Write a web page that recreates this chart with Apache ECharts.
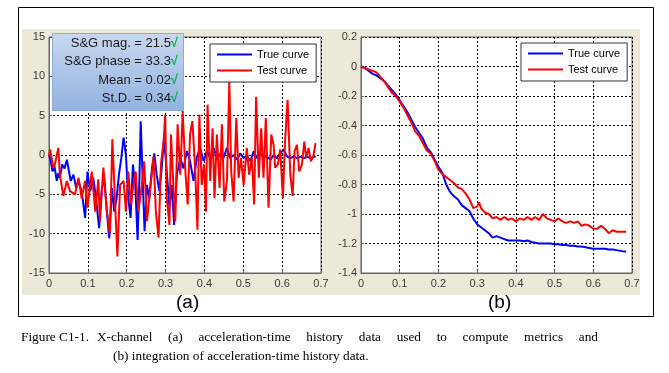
<!DOCTYPE html>
<html><head><meta charset="utf-8">
<script src="https://cdn.jsdelivr.net/npm/echarts@6/dist/echarts.min.js"></script>
<style>html,body{margin:0;padding:0;background:#fff}#c{width:669px;height:373px}</style>
</head><body><div id="c"></div>
<script>
// ---- data ----
var xTicks = [0, 0.1, 0.2, 0.3, 0.4, 0.5, 0.6, 0.7];
var accelYTicks = [-15, -10, -5, 0, 5, 10, 15];
var integYTicks = [-1.4, -1.2, -1, -0.8, -0.6, -0.4, -0.2, 0, 0.2];
var seriesNames = ['True curve', 'Test curve'];
var metricLabels = ['S&G mag. = 21.5', 'S&G phase = 33.3', 'Mean = 0.02', 'St.D. = 0.34'];
var captionLabel = 'Figure C1-1.';
var captionLine1 = 'X-channel (a) acceleration-time history data used to compute metrics and';
var captionLine2 = '(b) integration of acceleration-time history data.';

// (a) acceleration: [time, value]
var trueAccel = [[0,0],[0.004,-0.6],[0.009,-2.1],[0.014,-1.4],[0.020,-3.3],[0.024,-2.3],[0.028,-2.9],[0.034,-1.2],[0.040,-1.7],[0.046,-0.6],[0.050,-0.8],[0.056,-3.3],[0.063,-2.5],[0.070,-4.2],[0.076,-3.3],[0.084,-4.6],[0.093,-8.0],[0.099,-2.1],[0.106,-4.6],[0.114,-2.9],[0.121,-5.5],[0.129,-9.3],[0.136,-4.2],[0.142,-2.9],[0.149,-7.2],[0.155,-10.6],[0.162,-4.2],[0.168,-7.2],[0.174,-5.5],[0.180,-2.5],[0.186,-0.4],[0.192,2.2],[0.198,0],[0.204,-5.5],[0.210,-8.0],[0.216,-1.2],[0.222,-3.8],[0.228,-10.8],[0.233,-2.5],[0.236,4.3],[0.241,-2.9],[0.246,-9.7],[0.252,-3.8],[0.258,-5.5],[0.265,-1.7],[0.271,0.2],[0.277,-2.5],[0.284,-4.6],[0.290,-1.7],[0.296,2.2],[0.303,-2.1],[0.310,-6.7],[0.316,-3.8],[0.322,-8.9],[0.329,-2.5],[0.338,-0.4],[0.346,-1.7],[0.355,0.5],[0.363,-0.8],[0.372,-3.3],[0.381,-0.2],[0.389,0.9],[0.398,-0.8],[0.406,0.5],[0.415,-0.4],[0.424,0.9],[0.432,-0.6],[0.441,0.2],[0.449,-0.4],[0.458,0.9],[0.466,-0.4],[0.475,0],[0.484,-0.6],[0.492,0.2],[0.501,-0.4],[0.509,0],[0.518,-0.8],[0.527,0.5],[0.535,-0.4],[0.544,0.2],[0.552,-0.4],[0.561,-0.2],[0.570,-0.6],[0.578,0],[0.587,-0.4],[0.595,0.2],[0.604,0.7],[0.613,-0.2],[0.621,-0.4],[0.630,-0.2],[0.638,-0.4],[0.647,-0.2],[0.656,-0.4],[0.664,-0.2],[0.673,-0.4],[0.686,-0.2]];
var testAccel = [[0,0],[0.003,0.7],[0.011,-1.6],[0.015,-1.2],[0.024,0.9],[0.028,-2.5],[0.037,-5.2],[0.046,-3.3],[0.054,-4.6],[0.067,-5.0],[0.076,-2.9],[0.084,-5.5],[0.093,-3.3],[0.099,-6.7],[0.110,-2.1],[0.119,-7.2],[0.127,-3.1],[0.131,-8.4],[0.140,-1.6],[0.149,-7.2],[0.157,-10.0],[0.163,2.0],[0.170,-5.9],[0.176,-12.9],[0.183,-3.8],[0.192,-3.3],[0.198,-7.2],[0.204,-2.1],[0.211,-6.3],[0.217,-3.8],[0.223,-2.1],[0.230,-7.2],[0.239,-3.8],[0.245,-0.8],[0.252,-8.4],[0.260,-4.6],[0.269,-0.2],[0.275,-7.2],[0.282,-10.5],[0.288,-1.2],[0.295,1.7],[0.299,5.1],[0.303,-5.5],[0.310,-8.9],[0.314,2.6],[0.320,-3.8],[0.325,-8.4],[0.331,3.9],[0.338,-2.5],[0.344,5.6],[0.351,-2.1],[0.357,-6.3],[0.363,2.6],[0.369,4.3],[0.376,-1.6],[0.382,-9.5],[0.387,5.1],[0.393,-3.8],[0.399,-1.2],[0.404,-7.2],[0.408,6.4],[0.415,-3.3],[0.421,3.4],[0.426,-5.5],[0.432,2.6],[0.439,-4.2],[0.445,3.9],[0.451,-5.9],[0.458,-3.3],[0.464,9.4],[0.469,-2.1],[0.475,-5.9],[0.482,4.7],[0.488,-2.9],[0.494,-0.4],[0.501,-3.8],[0.509,0.9],[0.515,-2.5],[0.522,-0.4],[0.528,-6.3],[0.533,7.4],[0.540,-2.9],[0.546,3.4],[0.552,-2.9],[0.558,4.7],[0.565,-6.7],[0.572,2.6],[0.578,1.3],[0.582,-1.6],[0.589,-1.2],[0.595,0.7],[0.602,-5.5],[0.607,1.3],[0.614,7.0],[0.621,-2.5],[0.627,-5.2],[0.632,0.5],[0.638,1.3],[0.644,-2.1],[0.651,-1.2],[0.657,1.7],[0.662,-0.4],[0.668,0.9],[0.674,-0.8],[0.680,-0.2],[0.686,1.5]];

// (b) integration: [time, value]
var trueInteg = [[0,0],[0.01,-0.01],[0.02,-0.03],[0.03,-0.05],[0.04,-0.06],[0.05,-0.08],[0.06,-0.10],[0.07,-0.13],[0.08,-0.16],[0.09,-0.19],[0.10,-0.23],[0.11,-0.27],[0.12,-0.31],[0.13,-0.36],[0.14,-0.41],[0.15,-0.45],[0.16,-0.49],[0.17,-0.55],[0.18,-0.58],[0.19,-0.63],[0.20,-0.68],[0.21,-0.72],[0.22,-0.80],[0.23,-0.85],[0.24,-0.88],[0.25,-0.90],[0.26,-0.94],[0.27,-0.96],[0.28,-0.98],[0.29,-1.03],[0.30,-1.07],[0.31,-1.09],[0.32,-1.11],[0.33,-1.13],[0.34,-1.16],[0.35,-1.15],[0.36,-1.16],[0.37,-1.17],[0.38,-1.18],[0.39,-1.18],[0.40,-1.18],[0.41,-1.18],[0.42,-1.185],[0.43,-1.18],[0.44,-1.19],[0.45,-1.195],[0.46,-1.2],[0.47,-1.2],[0.48,-1.2],[0.49,-1.2],[0.50,-1.205],[0.51,-1.205],[0.52,-1.21],[0.53,-1.21],[0.54,-1.215],[0.55,-1.215],[0.56,-1.22],[0.57,-1.22],[0.58,-1.225],[0.59,-1.23],[0.60,-1.235],[0.61,-1.235],[0.62,-1.235],[0.63,-1.235],[0.64,-1.24],[0.65,-1.24],[0.66,-1.245],[0.67,-1.25],[0.68,-1.255],[0.685,-1.255]];
var testInteg = [[0,0],[0.01,-0.01],[0.02,-0.02],[0.03,-0.03],[0.04,-0.04],[0.05,-0.07],[0.06,-0.10],[0.07,-0.14],[0.08,-0.18],[0.09,-0.20],[0.10,-0.24],[0.11,-0.28],[0.12,-0.33],[0.13,-0.38],[0.14,-0.44],[0.15,-0.47],[0.16,-0.52],[0.17,-0.57],[0.18,-0.59],[0.19,-0.64],[0.20,-0.70],[0.21,-0.73],[0.22,-0.75],[0.23,-0.77],[0.24,-0.79],[0.25,-0.82],[0.26,-0.83],[0.27,-0.86],[0.28,-0.90],[0.29,-0.96],[0.30,-0.95],[0.305,-0.92],[0.31,-0.96],[0.32,-0.99],[0.33,-1.00],[0.34,-1.03],[0.35,-1.02],[0.36,-1.04],[0.37,-1.02],[0.38,-1.04],[0.39,-1.03],[0.40,-1.05],[0.41,-1.03],[0.42,-1.04],[0.43,-1.02],[0.44,-1.04],[0.45,-1.02],[0.46,-1.04],[0.47,-1.00],[0.48,-1.03],[0.49,-1.04],[0.50,-1.05],[0.51,-1.03],[0.52,-1.05],[0.53,-1.06],[0.54,-1.05],[0.55,-1.06],[0.56,-1.05],[0.57,-1.08],[0.58,-1.07],[0.59,-1.08],[0.60,-1.10],[0.61,-1.10],[0.62,-1.08],[0.63,-1.10],[0.64,-1.13],[0.65,-1.11],[0.66,-1.12],[0.67,-1.12],[0.68,-1.12],[0.685,-1.12]];

// ---- chart ----
var chart = echarts.init(document.getElementById('c'), null, {renderer: 'canvas'});
var tickFont = {fontFamily: 'Liberation Sans', fontSize: 11, color: '#3a3a3a'};
var gridLine = {show: true, lineStyle: {color: '#000', type: [2, 2], width: 1}};
function xAx(i) {
  return {type: 'value', gridIndex: i, min: xTicks[0], max: xTicks[xTicks.length - 1], interval: 0.1,
    axisLine: {show: true, onZero: false, lineStyle: {color: '#666'}},
    axisTick: {show: true, inside: true, length: 3, lineStyle: {color: '#666'}},
    axisLabel: Object.assign({margin: 5, formatter: function (v) { return String(+v.toFixed(1)); }}, tickFont),
    splitLine: gridLine};
}
function yAx(i, ticks, step) {
  return {type: 'value', gridIndex: i, min: ticks[0], max: ticks[ticks.length - 1], interval: step,
    axisLine: {show: true, onZero: false, lineStyle: {color: '#666'}},
    axisTick: {show: true, inside: true, length: 3, lineStyle: {color: '#666'}},
    axisLabel: Object.assign({margin: 4, formatter: function (v) { return String(+v.toFixed(1)); }}, tickFont),
    splitLine: gridLine};
}
function legendAt(left, top) {
  return {left: left, top: top, orient: 'vertical', data: seriesNames, icon: 'rect',
    itemWidth: 35, itemHeight: 2, itemGap: 5, padding: [5, 7, 6, 7],
    backgroundColor: '#fff', borderColor: '#333', borderWidth: 1, borderRadius: 0,
    textStyle: {fontFamily: 'Liberation Sans', fontSize: 11, color: '#000'},
    selectedMode: false, z: 20};
}
function metricText(i, y) {
  return {type: 'text', right: 669 - 178, top: y, z: 101,
    style: {text: '{a|' + metricLabels[i] + '}{g|√}',
      rich: {a: {fontFamily: 'Liberation Sans', fontSize: 13, fill: '#1a1a1a'},
             g: {fontFamily: 'Liberation Sans', fontSize: 13, fill: '#00b050', fontWeight: 'bold'}}}};
}
// justified first caption line (words spread between x=97 and x=598)
var capFont = '13.3px "Liberation Serif"';
var mctx = document.createElement('canvas').getContext('2d');
mctx.font = capFont;
var words = captionLine1.split(' ');
var wW = words.map(function (w) { return mctx.measureText(w).width; });
var totalW = wW.reduce(function (a, b) { return a + b; }, 0);
var gap = (598 - 97 - totalW) / (words.length - 1);
var captionGraphics = [];
var cx = 97;
words.forEach(function (w, i) {
  captionGraphics.push({type: 'text', x: cx, y: 331, style: {text: w, fontFamily: 'Liberation Serif', fontSize: 13.3, fill: '#000'}});
  cx += wW[i] + gap;
});
captionGraphics.push({type: 'text', x: 21, y: 331, style: {text: captionLabel, fontFamily: 'Liberation Serif', fontSize: 13.3, fill: '#000'}});
captionGraphics.push({type: 'text', x: 113, y: 350, style: {text: captionLine2, fontFamily: 'Liberation Serif', fontSize: 13.3, fill: '#000'}});

var option = {
  animation: false,
  backgroundColor: '#fff',
  grid: [
    {left: 49, top: 37, width: 272, height: 236, show: true, backgroundColor: '#fff', borderColor: '#666', borderWidth: 1},
    {left: 361, top: 37, width: 271, height: 236, show: true, backgroundColor: '#fff', borderColor: '#666', borderWidth: 1}
  ],
  xAxis: [xAx(0), xAx(1)],
  yAxis: [yAx(0, accelYTicks, 5), yAx(1, integYTicks, 0.2)],
  legend: [legendAt(210, 44), legendAt(521, 43)],
  series: [
    {name: seriesNames[0], type: 'line', xAxisIndex: 0, yAxisIndex: 0, data: trueAccel, showSymbol: false, lineStyle: {color: '#0000ff', width: 2}, itemStyle: {color: '#0000ff'}, z: 3},
    {name: seriesNames[1], type: 'line', xAxisIndex: 0, yAxisIndex: 0, data: testAccel, showSymbol: false, lineStyle: {color: '#ff0000', width: 2}, itemStyle: {color: '#ff0000'}, z: 4},
    {name: seriesNames[0], type: 'line', xAxisIndex: 1, yAxisIndex: 1, data: trueInteg, showSymbol: false, lineStyle: {color: '#0000ff', width: 2}, itemStyle: {color: '#0000ff'}, z: 3},
    {name: seriesNames[1], type: 'line', xAxisIndex: 1, yAxisIndex: 1, data: testInteg, showSymbol: false, lineStyle: {color: '#ff0000', width: 2}, itemStyle: {color: '#ff0000'}, z: 4}
  ],
  graphic: [
    {type: 'rect', left: 18, top: 7, z: -20, shape: {width: 635, height: 309}, style: {fill: '#fff', stroke: '#000', lineWidth: 1}},
    {type: 'rect', left: 22, top: 29, z: -10, shape: {width: 618, height: 266}, style: {fill: '#ece9d8'}},
    {type: 'text', left: 176, top: 293, z: 5, style: {text: '(a)', fontFamily: 'Liberation Sans', fontSize: 19, fill: '#000'}},
    {type: 'text', left: 488, top: 293, z: 5, style: {text: '(b)', fontFamily: 'Liberation Sans', fontSize: 19, fill: '#000'}},
    {type: 'rect', left: 52, top: 33, z: 100, shape: {width: 131, height: 77},
      style: {stroke: '#8eaad6', lineWidth: 1,
        fill: new echarts.graphic.LinearGradient(0, 0, 0, 1, [{offset: 0, color: '#c8d8ef'}, {offset: 1, color: '#92b2e0'}])}},
    metricText(0, 37), metricText(1, 55), metricText(2, 74), metricText(3, 92)
  ].concat(captionGraphics)
};
chart.setOption(option);
</script></body></html>
